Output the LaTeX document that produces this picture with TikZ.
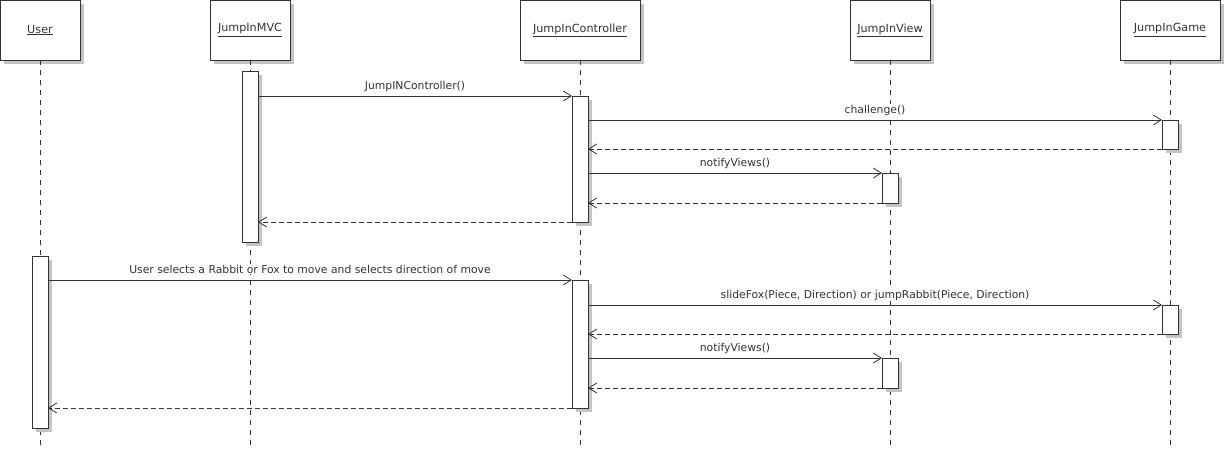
\documentclass[tikz,border=0pt]{standalone}
\usepackage{fontspec}
\setmainfont{DejaVu Sans}
\usetikzlibrary{arrows.meta,shadows}
\definecolor{ink}{HTML}{333333}
\definecolor{shade}{HTML}{C4C4C4}

\begin{document}
\begin{tikzpicture}[x=1pt,y=-1pt,
  font=\fontsize{10.8}{13}\selectfont,
  every node/.style={text=ink},
  boxshadow/.style={drop shadow={shadow xshift=4pt,shadow yshift=-4pt,fill=shade,opacity=1}},
  head/.style={draw=ink,fill=white,line width=1pt,inner sep=0pt,outer sep=0pt,
    minimum height=60pt,font=\fontsize{11.2}{13}\selectfont,boxshadow},
  act/.style={draw=ink,fill=white,line width=1pt,inner sep=0pt,outer sep=0pt,
    minimum width=16pt,boxshadow},
  life/.style={draw=ink,line width=0.9pt,dash pattern=on 5pt off 5pt},
  call/.style={draw=ink,line width=0.9pt,-{Straight Barb[length=8pt,width=10pt,line width=0.8pt]}},
  reply/.style={call,dash pattern=on 5pt off 3pt},
  msg/.style={midway,anchor=base,yshift=7pt,inner sep=1pt,fill=white}]
\useasboundingbox (0,0) rectangle (1225,453);

% participants
\node[head,minimum width=80pt]  (user) at (40,30)   {\underline{User}};
\node[head,minimum width=80pt]  (mvc)  at (250,30)  {\underline{JumpInMVC}};
\node[head,minimum width=120pt] (ctl)  at (580,30)  {\underline{JumpInController}};
\node[head,minimum width=80pt]  (view) at (890,30)  {\underline{JumpInView}};
\node[head,minimum width=100pt] (game) at (1170,30) {\underline{JumpInGame}};

% lifeline ends
\coordinate (userEnd) at (40,445);
\coordinate (mvcEnd)  at (250,445);
\coordinate (ctlEnd)  at (580,445);
\coordinate (viewEnd) at (890,445);
\coordinate (gameEnd) at (1170,445);

\draw[life] (user) -- (userEnd);
\draw[life] (mvc)  -- (mvcEnd);
\draw[life] (ctl)  -- (ctlEnd);
\draw[life] (view) -- (viewEnd);
\draw[life] (game) -- (gameEnd);

% activation bars
\node[act,minimum height=171pt] (mvcA)  at (250,156.5)  {};
\node[act,minimum height=126pt] (ctlA)  at (580,159)    {};
\node[act,minimum height=29pt]  (gameA) at (1170,134.5) {};
\node[act,minimum height=30pt]  (viewA) at (890,188)    {};
\node[act,minimum height=172pt] (userA) at (40,342)     {};
\node[act,minimum height=128pt] (ctlB)  at (580,344)    {};
\node[act,minimum height=29pt]  (gameB) at (1170,319.5) {};
\node[act,minimum height=30pt]  (viewB) at (890,373)    {};

% start-up sequence
\draw[call] (mvcA.east |- ctlA.north west) -- (ctlA.north west)
  node[msg] {JumpINController()};
\draw[call] (ctlA.east |- gameA.north west) -- (gameA.north west)
  node[msg] {challenge()};
\draw[reply] (gameA.south west) -- (ctlA.east |- gameA.south west);
\draw[call] (ctlA.east |- viewA.north west) -- (viewA.north west)
  node[msg] {notifyViews()};
\draw[reply] (viewA.south west) -- (ctlA.east |- viewA.south west);
\draw[reply] (ctlA.south west) -- (mvcA.east |- ctlA.south west);

% move sequence
\draw[call] (userA.east |- ctlB.north west) -- (ctlB.north west)
  node[msg] {User selects a Rabbit or Fox to move and selects direction of move};
\draw[call] (ctlB.east |- gameB.north west) -- (gameB.north west)
  node[msg] {slideFox(Piece, Direction) or jumpRabbit(Piece, Direction)};
\draw[reply] (gameB.south west) -- (ctlB.east |- gameB.south west);
\draw[call] (ctlB.east |- viewB.north west) -- (viewB.north west)
  node[msg] {notifyViews()};
\draw[reply] (viewB.south west) -- (ctlB.east |- viewB.south west);
\draw[reply] (ctlB.south west) -- (userA.east |- ctlB.south west);
\end{tikzpicture}
\end{document}
